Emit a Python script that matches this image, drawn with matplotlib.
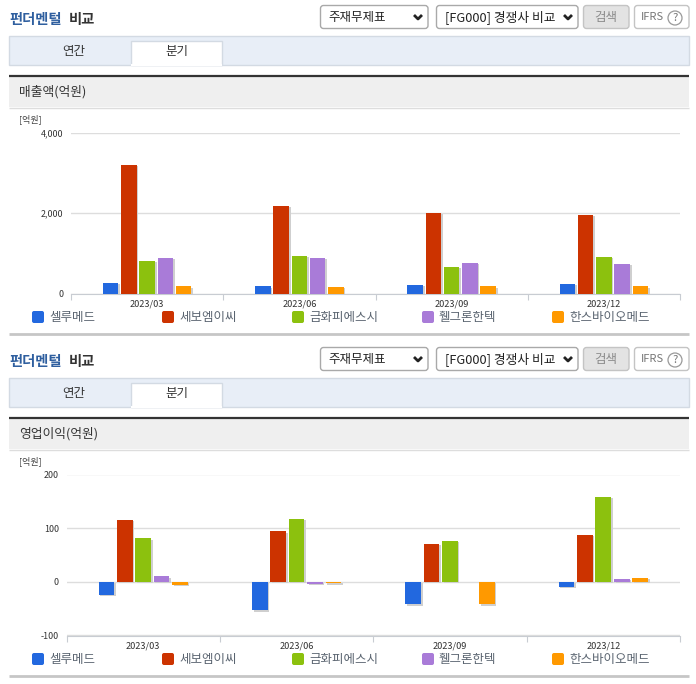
import numpy as np
import matplotlib
matplotlib.use('Agg')
import matplotlib.pyplot as plt
import matplotlib.patheffects as pe
from matplotlib.patches import FancyBboxPatch, Rectangle, Circle

plt.rcParams['font.family'] = ['Noto Sans CJK KR', 'DejaVu Sans']
plt.rcParams['axes.unicode_minus'] = False

W, H = 696, 684

quarters = ['2023/03', '2023/06', '2023/09', '2023/12']
companies = ['셀루메드', '세보엠이씨', '금화피에스시', '휄그론한텍', '한스바이오메드']
colors = ['#2268df', '#cc3300', '#8cc10e', '#a97bd8', '#ff9900']

# 매출액 (억원)
sales_celumed = [264, 180, 207, 230]
sales_sebo = [3190, 2170, 2005, 1948]
sales_geumhwa = [810, 930, 663, 910]
sales_welgron = [880, 880, 760, 730]
sales_hans = [180, 157, 180, 180]

# 영업이익 (억원)
profit_celumed = [-24, -53, -42, -9]
profit_sebo = [115, 94, 71, 88]
profit_geumhwa = [81, 117, 76, 158]
profit_welgron = [10, -4, 0, 6]
profit_hans = [-5, -3, -42, 8]

sales_ticks = [0, 2000, 4000]
sales_tick_labels = ['0', '2,000', '4,000']
profit_ticks = [-100, 0, 100, 200]
profit_tick_labels = ['-100', '0', '100', '200']


def round_box(ui, x0, y0, x1, y1, face='white', edge='#a9a9a9', lw=1.0, r=3):
    box = FancyBboxPatch((x0 + r, y0 + r), x1 - x0 - 2 * r, y1 - y0 - 2 * r,
                         boxstyle=f'round,pad={r},rounding_size={r}',
                         fc=face, ec=edge, lw=lw)
    ui.add_patch(box)


def draw_arrow(ui, x, y):
    ui.plot([x - 4, x, x + 4], [y - 2, y + 2, y - 2], color='#222222', lw=2, solid_capstyle='butt')


def draw_panel(ui, dy, title):
    # 제목
    ui.text(9.5, 20 + dy, '펀더멘털', color='#2f5f9f', fontsize=10.3, fontweight='bold', va='center')
    ui.text(69, 20 + dy, '비교', color='#333333', fontsize=10.3, fontweight='bold', va='center')

    # 검색 조건 상자
    round_box(ui, 320.5, 5.5 + dy, 428, 28.5 + dy)
    ui.text(328, 17 + dy, '주재무제표', color='#222222', fontsize=9, va='center')
    draw_arrow(ui, 418, 17 + dy)
    round_box(ui, 436.5, 5.5 + dy, 578, 28.5 + dy)
    ui.text(445, 17 + dy, '[FG000] 경쟁사 비교', color='#222222', fontsize=9.2, va='center')
    draw_arrow(ui, 568, 17 + dy)
    round_box(ui, 583.5, 5.5 + dy, 629, 28.5 + dy, face='#e3e3e3', edge='#c4c4c4')
    ui.text(606, 17 + dy, '검색', color='#8a8a8a', fontsize=9, ha='center', va='center')
    round_box(ui, 634.5, 5.5 + dy, 689, 28.5 + dy, edge='#c4c4c4')
    ui.text(641, 17 + dy, 'IFRS', color='#777777', fontsize=8, va='center')
    ui.add_patch(Circle((675, 18 + dy), 7, fc='white', ec='#999999', lw=0.9))
    ui.text(675, 18 + dy, '?', color='#777777', fontsize=8, ha='center', va='center')

    # 연간/분기 탭
    ui.add_patch(Rectangle((9, 35.5 + dy), 680, 29, fc='#e8eef7', ec='#d3dae3', lw=1))
    ui.add_patch(Rectangle((131, 40.5 + dy), 91, 24, fc='white', ec='#d3dae3', lw=1, zorder=3))
    ui.plot([132, 221], [64.5 + dy, 64.5 + dy], color='white', lw=1.5, zorder=4)
    ui.text(74, 51 + dy, '연간', color='#333333', fontsize=9, ha='center', va='center')
    ui.text(177, 52 + dy, '분기', color='#333333', fontsize=9, ha='center', va='center')

    # 섹션 헤더
    ui.add_patch(Rectangle((9, 77 + dy), 680, 30, fc='#efefef', ec='none'))
    ui.plot([9, 689], [76 + dy, 76 + dy], color='#333333', lw=1.6, solid_capstyle='butt')
    ui.plot([9, 689], [107.5 + dy, 107.5 + dy], color='#dddddd', lw=1, solid_capstyle='butt')
    ui.text(19, 92 + dy, title, color='#333333', fontsize=9.2, va='center')
    ui.text(19, 119 + dy, '[억원]', color='#444444', fontsize=6.5, va='center')

    # 범례
    for i, (name, color) in enumerate(zip(companies, colors)):
        x = 32 + 130 * i
        ui.add_patch(FancyBboxPatch((x + 2, 313 + dy), 8, 8, boxstyle='round,pad=2,rounding_size=2',
                                    fc=color, ec='none'))
        ui.text(x + 17, 317 + dy, name, color='#5a6470', fontsize=9, va='center')

    # 하단 구분선
    ui.plot([9, 689], [334 + dy, 334 + dy], color='#c6c6c6', lw=2, solid_capstyle='butt')


def draw_chart(fig, left, right, top, bottom, ymin, ymax, series, ticks, tick_labels):
    ax = fig.add_axes([left / W, 1 - bottom / H, (right - left) / W, (bottom - top) / H])
    ax.patch.set_alpha(0)
    x = np.arange(len(quarters))
    pitch = 0.12
    for i, values in enumerate(series):
        bars = ax.bar(x + (i - 2) * pitch, values, width=0.102, color=colors[i], zorder=3)
        for bar in bars:
            bar.set_path_effects([
                pe.SimplePatchShadow(offset=(1.2, -0.9), shadow_rgbFace='#cfcfcf', alpha=1),
                pe.Normal()])

    ax.set_xlim(-0.5, len(quarters) - 0.5)
    ax.set_ylim(ymin, ymax)
    ax.set_yticks(ticks)
    ax.set_yticklabels(tick_labels)
    ax.set_xticks(np.arange(len(quarters) + 1) - 0.5)
    ax.set_xticklabels([])
    ax.set_xticks(x, minor=True)
    ax.set_xticklabels(quarters, minor=True)
    ax.tick_params(axis='y', length=0, pad=5.6, labelsize=6.4, labelcolor='#333333')
    ax.tick_params(axis='x', which='major', length=4, width=0.8, color='#c8ccd2')
    ax.tick_params(axis='x', which='minor', length=0, pad=4, labelsize=6.6, labelcolor='#333333')
    ax.grid(axis='y', color='#dddddd', lw=1, zorder=1)
    ax.set_axisbelow(True)
    for side in ['top', 'right', 'left']:
        ax.spines[side].set_visible(False)
    ax.spines['bottom'].set_color('#c8ccd2')
    return ax


def main():
    fig = plt.figure(figsize=(W / 100, H / 100), dpi=100, facecolor='white')

    # 화면 요소는 픽셀 좌표로 그린다
    ui = fig.add_axes([0, 0, 1, 1])
    ui.set_xlim(0, W)
    ui.set_ylim(H, 0)
    ui.axis('off')

    draw_panel(ui, 0, '매출액(억원)')
    draw_panel(ui, 342, '영업이익(억원)')

    sales = [sales_celumed, sales_sebo, sales_geumhwa, sales_welgron, sales_hans]
    profit = [profit_celumed, profit_sebo, profit_geumhwa, profit_welgron, profit_hans]
    draw_chart(fig, 71, 680, 132.5, 293.5, 0, 4000, sales, sales_ticks, sales_tick_labels)
    draw_chart(fig, 66.5, 680, 474.5, 635.5, -100, 200, profit, profit_ticks, profit_tick_labels)

    fig.savefig('out.png', dpi=100)


if __name__ == "__main__":
    main()
